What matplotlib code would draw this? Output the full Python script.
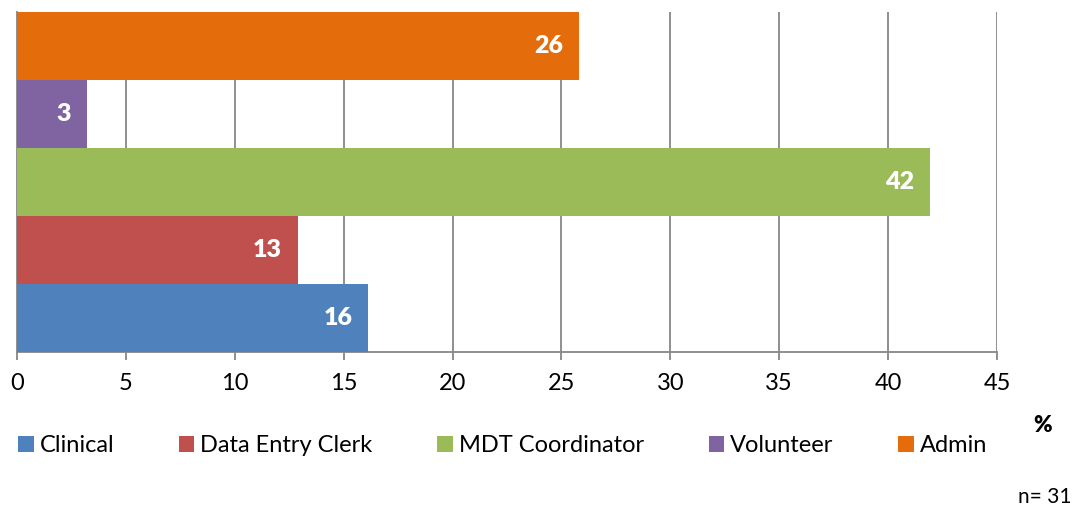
import matplotlib
matplotlib.use("Agg")
import matplotlib.pyplot as plt
from matplotlib.patches import Patch

plt.rcParams["font.family"] = ["Lato", "DejaVu Sans"]

roles = ["Clinical", "Data Entry Clerk", "MDT Coordinator", "Volunteer", "Admin"]
percent = [16.13, 12.90, 41.94, 3.23, 25.81]
labels = ["16", "13", "42", "3", "26"]
colors = ["#4F81BD", "#C0504D", "#9BBB59", "#8064A2", "#E46C0A"]
xticks = [0, 5, 10, 15, 20, 25, 30, 35, 40, 45]

W, H = 1092, 509
fig = plt.figure(figsize=(W / 100, H / 100), dpi=100)
ax = fig.add_axes([17 / W, 1 - 352 / H, (997 - 17) / W, (352 - 12) / H])

ypos = list(range(len(roles)))
bars = ax.barh(ypos, percent, height=1.0, color=colors, zorder=3)
for b, lab in zip(bars, labels):
    ax.annotate(lab, (b.get_width(), b.get_y() + b.get_height() / 2),
                xytext=(-16, 0), textcoords="offset pixels",
                ha="right", va="center", color="white",
                fontsize=18, fontweight="heavy", zorder=4)

ax.set_xlim(0, 45)
ax.set_ylim(-0.5, len(roles) - 0.5)
ax.set_xticks(xticks)
ax.set_yticks([])
ax.grid(axis="x", color="#878787", linewidth=1.3, zorder=0)
ax.tick_params(axis="x", direction="out", length=6, width=1.3, color="#878787",
               labelsize=17, pad=9)
for s in ["top", "right"]:
    ax.spines[s].set_visible(False)
for s in ["left", "bottom"]:
    ax.spines[s].set_color("#878787")
    ax.spines[s].set_linewidth(1.3)

handles = [Patch(facecolor=c, edgecolor="none") for c in colors]
fig.legend(handles, roles, loc="center left", bbox_to_anchor=(-3 / W, 1 - 446 / H),
           ncol=5, frameon=False, fontsize=17, handlelength=0.65, handleheight=0.65,
           handletextpad=0.25, columnspacing=2.75)

fig.text(1043 / W, 1 - 426 / H, "%", ha="center", va="center",
         fontsize=16, fontweight="heavy")
fig.text(1071 / W, 1 - 497 / H, "n= 31", ha="right", va="center", fontsize=15)

fig.savefig("out.png", dpi=100)
